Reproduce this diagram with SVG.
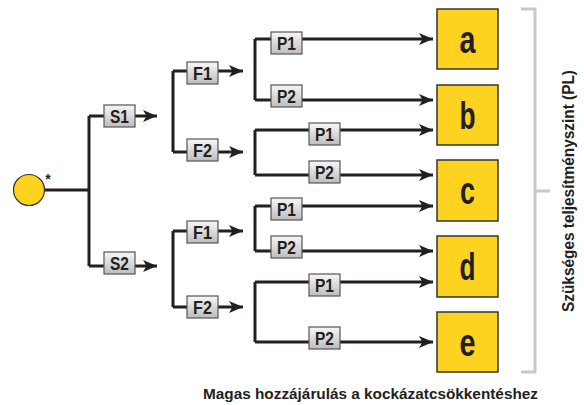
<svg xmlns="http://www.w3.org/2000/svg" width="584" height="405" viewBox="0 0 584 405">
<defs>
<linearGradient id="g" x1="0" y1="0" x2="0" y2="1">
<stop offset="0" stop-color="#f7f7f7"/>
<stop offset="1" stop-color="#bdbdbd"/>
</linearGradient>
<marker id="ah" markerUnits="userSpaceOnUse" markerWidth="14" markerHeight="12" refX="14" refY="6" orient="auto">
<path d="M0,0 L14,6 L0,12 L3.5,6 Z" fill="#231f20"/>
</marker>
</defs>
<style>
.ln{fill:none;stroke:#231f20;stroke-width:3}
.ar{fill:none;stroke:#231f20;stroke-width:3;marker-end:url(#ah)}
.bx{fill:url(#g);stroke:#555;stroke-width:1.2}
.bt{font-family:"Liberation Sans",sans-serif;font-weight:bold;font-size:18px;fill:#231f20;text-anchor:middle}
.yb{fill:#fed320;stroke:#333;stroke-width:1.5}
.yt{font-family:"Liberation Sans",sans-serif;font-weight:bold;font-size:39px;fill:#231f20;text-anchor:middle}
.lab{font-family:"Liberation Sans",sans-serif;font-weight:bold;fill:#231f20}
</style>
<rect width="584" height="405" fill="#fff"/>
<g id="connectors">
<path class="ln" d="M44,190 H89 M89,116 V266 M89,116 H104 M89,266 H104"/>
<path class="ar" d="M135,116 H157"/>
<path class="ar" d="M135,266 H157"/>
<path class="ln" d="M173,71 V152 M173,71 H187 M173,152 H187"/>
<path class="ar" d="M218,71 H243"/>
<path class="ar" d="M218,152 H243"/>
<path class="ln" d="M173,231 V307 M173,231 H187 M173,307 H187"/>
<path class="ar" d="M218,231 H243"/>
<path class="ar" d="M218,307 H243"/>
<path class="ln" d="M255,39 V100 M255,39 H271 M255,100 H271"/>
<path class="ar" d="M302,39 H433"/>
<path class="ar" d="M302,100 H433"/>
<path class="ln" d="M255,130 V175 M255,130 H309 M255,175 H309"/>
<path class="ar" d="M340,130 H433"/>
<path class="ar" d="M340,175 H433"/>
<path class="ln" d="M255,206 V251 M255,206 H271 M255,251 H271"/>
<path class="ar" d="M302,206 H433"/>
<path class="ar" d="M302,251 H433"/>
<path class="ln" d="M255,282 V342 M255,282 H309 M255,342 H309"/>
<path class="ar" d="M340,282 H433"/>
<path class="ar" d="M340,342 H433"/>
</g>
<g id="start">
<circle cx="29" cy="190" r="15.5" fill="#fed320" stroke="#333" stroke-width="1.2"/>
<text x="48" y="184" font-family="Liberation Sans, sans-serif" font-weight="bold" font-size="14" fill="#231f20" text-anchor="middle">*</text>
</g>
<g id="S1"><rect class="bx" x="104" y="105" width="31" height="22"/><text class="bt" x="119.5" y="123" textLength="19" lengthAdjust="spacingAndGlyphs">S1</text></g>
<g id="S2"><rect class="bx" x="104" y="252" width="31" height="22"/><text class="bt" x="119.5" y="270" textLength="19" lengthAdjust="spacingAndGlyphs">S2</text></g>
<g id="F1a"><rect class="bx" x="187" y="62" width="31" height="22"/><text class="bt" x="202.5" y="80" textLength="19" lengthAdjust="spacingAndGlyphs">F1</text></g>
<g id="F2a"><rect class="bx" x="187" y="139" width="31" height="22"/><text class="bt" x="202.5" y="157" textLength="19" lengthAdjust="spacingAndGlyphs">F2</text></g>
<g id="F1b"><rect class="bx" x="187" y="221" width="31" height="22"/><text class="bt" x="202.5" y="239" textLength="19" lengthAdjust="spacingAndGlyphs">F1</text></g>
<g id="F2b"><rect class="bx" x="187" y="296" width="31" height="22"/><text class="bt" x="202.5" y="314" textLength="19" lengthAdjust="spacingAndGlyphs">F2</text></g>
<g id="P1a"><rect class="bx" x="271" y="32" width="31" height="22"/><text class="bt" x="286.5" y="50" textLength="19" lengthAdjust="spacingAndGlyphs">P1</text></g>
<g id="P2a"><rect class="bx" x="271" y="85" width="31" height="22"/><text class="bt" x="286.5" y="103" textLength="19" lengthAdjust="spacingAndGlyphs">P2</text></g>
<g id="P1b"><rect class="bx" x="309" y="123" width="31" height="22"/><text class="bt" x="324.5" y="141" textLength="19" lengthAdjust="spacingAndGlyphs">P1</text></g>
<g id="P2b"><rect class="bx" x="309" y="161" width="31" height="22"/><text class="bt" x="324.5" y="179" textLength="19" lengthAdjust="spacingAndGlyphs">P2</text></g>
<g id="P1c"><rect class="bx" x="271" y="198" width="31" height="22"/><text class="bt" x="286.5" y="216" textLength="19" lengthAdjust="spacingAndGlyphs">P1</text></g>
<g id="P2c"><rect class="bx" x="271" y="236" width="31" height="22"/><text class="bt" x="286.5" y="254" textLength="19" lengthAdjust="spacingAndGlyphs">P2</text></g>
<g id="P1d"><rect class="bx" x="309" y="274" width="31" height="22"/><text class="bt" x="324.5" y="292" textLength="19" lengthAdjust="spacingAndGlyphs">P1</text></g>
<g id="P2d"><rect class="bx" x="309" y="327" width="31" height="22"/><text class="bt" x="324.5" y="345" textLength="19" lengthAdjust="spacingAndGlyphs">P2</text></g>
<g id="a"><rect class="yb" x="437" y="9" width="61" height="60"/><text class="yt" x="467.5" y="53" textLength="16" lengthAdjust="spacingAndGlyphs">a</text></g>
<g id="b"><rect class="yb" x="437" y="85" width="61" height="60"/><text class="yt" x="467.5" y="129" textLength="16" lengthAdjust="spacingAndGlyphs">b</text></g>
<g id="c"><rect class="yb" x="437" y="160" width="61" height="61"/><text class="yt" x="467.5" y="204" textLength="15" lengthAdjust="spacingAndGlyphs">c</text></g>
<g id="d"><rect class="yb" x="437" y="236" width="61" height="61"/><text class="yt" x="467.5" y="280" textLength="16" lengthAdjust="spacingAndGlyphs">d</text></g>
<g id="e"><rect class="yb" x="437" y="312" width="61" height="60"/><text class="yt" x="467.5" y="356" textLength="16" lengthAdjust="spacingAndGlyphs">e</text></g>
<g id="bracket">
<path d="M521,9 H535 V372 H521 M535,191 H550" fill="none" stroke="#c8c8c8" stroke-width="3"/>
</g>
<text class="lab" transform="translate(574,191) rotate(-90)" text-anchor="middle" font-size="17" textLength="242" lengthAdjust="spacingAndGlyphs">Szükséges teljesítményszint (PL)</text>
<text class="lab" x="370.5" y="399" text-anchor="middle" font-size="15" textLength="335" lengthAdjust="spacingAndGlyphs">Magas hozzájárulás a kockázatcsökkentéshez</text>
</svg>
